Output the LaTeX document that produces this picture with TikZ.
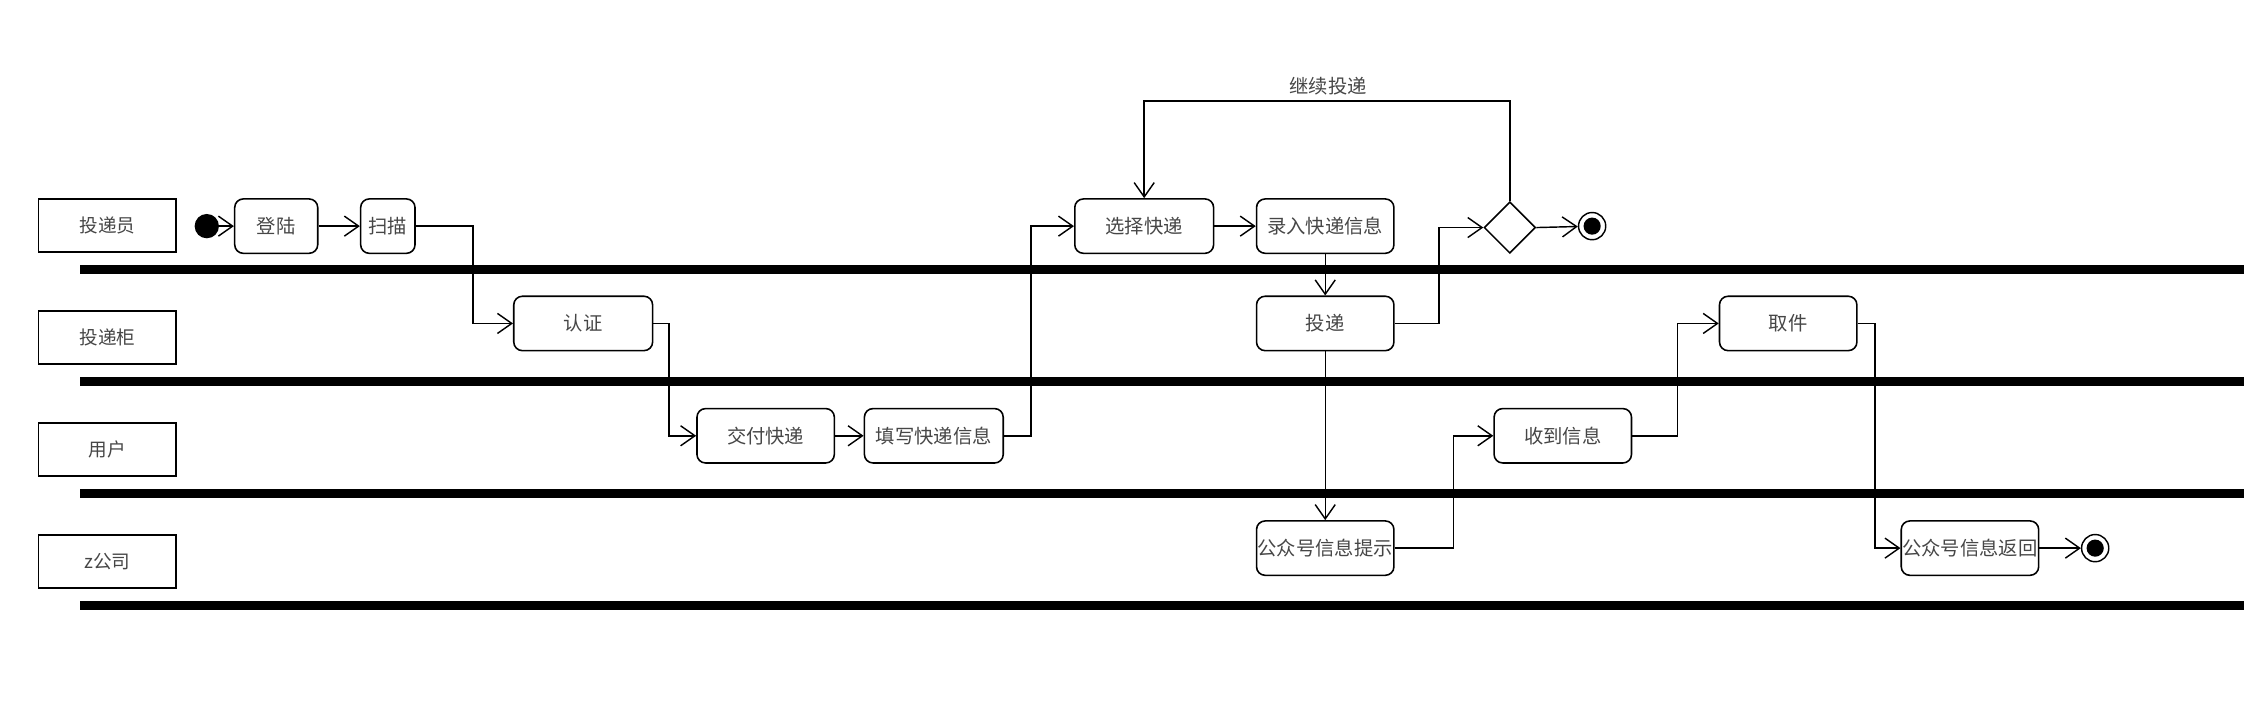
\documentclass[tikz,border=0pt]{standalone}
\usepackage{fontspec}
\newfontfamily\cjk{Noto Sans CJK SC}
\usetikzlibrary{arrows.meta,shapes.geometric}
\definecolor{txt}{RGB}{70,70,70}
\tikzset{
  lanebox/.style={draw, line width=1.1pt, minimum width=96pt, minimum height=37pt, inner sep=0pt, text=txt, font=\cjk\fontsize{13}{14}\selectfont},
  act/.style={draw, rounded corners=6pt, line width=1.1pt, minimum height=38pt, inner sep=0pt, text=txt, font=\cjk\fontsize{13.5}{14}\selectfont},
  lanesep/.style={line width=6.3pt},
  conn/.style={line width=1pt, -{Straight Barb[length=10pt,width=14pt,line width=1pt]}},
  decis/.style={draw, diamond, line width=1.1pt, minimum width=36pt, minimum height=36pt, inner sep=0pt, aspect=1},
  startnode/.style={circle, fill=black, minimum size=17pt, inner sep=0pt},
  endnode/.style={circle, draw, line width=1pt, minimum size=19pt, inner sep=0pt}
}
\begin{document}
\begin{tikzpicture}[x=1pt,y=-1pt]
\useasboundingbox (0,0) rectangle (1568,499);

% swimlane separators
\draw[lanesep] (56,188) -- (1568,188);
\draw[lanesep] (56,266.5) -- (1568,266.5);
\draw[lanesep] (56,344.5) -- (1568,344.5);
\draw[lanesep] (56,423) -- (1568,423);

% lane labels
\node[lanebox] (l1) at (75,157.5) {投递员};
\node[lanebox] (l2) at (75,236) {投递柜};
\node[lanebox] (l3) at (75,314) {用户};
\node[lanebox] (l4) at (75,392.5) {z公司};

% activities
\node[startnode] (start) at (144.5,158) {};
\node[act, minimum width=58pt] (denglu) at (193,158) {登陆};
\node[act, minimum width=38pt] (saomiao) at (271,158) {扫描};
\node[act, minimum width=97pt] (renzheng) at (407.5,226) {认证};
\node[act, minimum width=96pt] (jiaofu) at (535,304.5) {交付快递};
\node[act, minimum width=97pt] (tianxie) at (652.5,304.5) {填写快递信息};
\node[act, minimum width=97pt] (xuanze) at (799.5,158) {选择快递};
\node[act, minimum width=96pt] (luru) at (926,158) {录入快递信息};
\node[act, minimum width=96pt] (toudi) at (926,226) {投递};
\node[decis] (dec) at (1055,159) {};
\node[endnode] (end1) at (1112.5,158) {};
\fill (end1.center) circle (6pt);
\node[act, minimum width=96pt] (tishi) at (926,383) {公众号信息提示};
\node[act, minimum width=96pt] (shoudao) at (1092,304.5) {收到信息};
\node[act, minimum width=96pt] (qujian) at (1249.5,226) {取件};
\node[act, minimum width=96pt] (fanhui) at (1376.5,383) {公众号信息返回};
\node[endnode] (end2) at (1464,383) {};
\fill (end2.center) circle (6pt);

\coordinate (loop) at (1055,70.5);
\node[text=txt, font=\cjk\fontsize{13.5}{14}\selectfont] (looplbl) at (928,60.5) {继续投递};

% connectors
\draw[conn] (start) -- (denglu.west);
\draw[conn] (denglu.east) -- (saomiao.west);
\draw[conn] (saomiao.east) -- ++(40,0) |- (renzheng.west);
\draw[conn] (renzheng.east) -- ++(11,0) |- (jiaofu.west);
\draw[conn] (jiaofu.east) -- (tianxie.west);
\draw[conn] (tianxie.east) -- ++(19,0) |- (xuanze.west);
\draw[conn] (xuanze.east) -- (luru.west);
\draw[conn] (luru.south) -- (toudi.north);
\draw[conn] (toudi.east) -- ++(31,0) |- (dec.west);
\draw[conn] (dec.east) -- (end1);
\draw[conn] (dec.north) -- (dec.north |- loop) -| (xuanze.north);
\draw[conn] (toudi.south) -- (tishi.north);
\draw[conn] (tishi.east) -- ++(41,0) |- (shoudao.west);
\draw[conn] (shoudao.east) -- ++(31.5,0) |- (qujian.west);
\draw[conn] (qujian.east) -- ++(12,0) |- (fanhui.west);
\draw[conn] (fanhui.east) -- (end2);
\end{tikzpicture}
\end{document}
